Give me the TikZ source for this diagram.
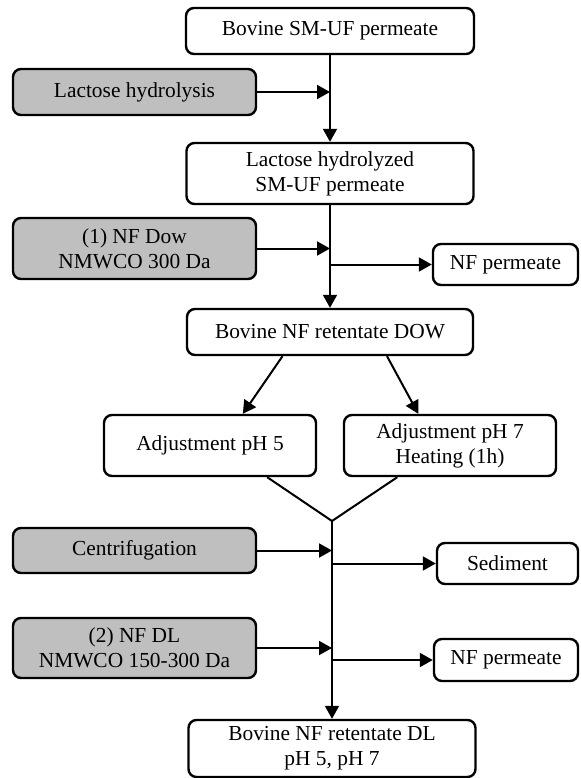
\documentclass[tikz,border=0pt]{standalone}
\usepackage{fontspec}
\setmainfont{Liberation Serif}
\usepackage{xcolor}
\usetikzlibrary{arrows.meta}

\begin{document}
\begin{tikzpicture}[x=0.5pt, y=-0.5pt,
  proc/.style={draw, line width=1.2pt, rounded corners=4pt, align=center, inner sep=1pt, font=\fontsize{10.7}{12.5}\selectfont},
  treat/.style={proc, fill=black!25},
  flow/.style={line width=1pt, -{Triangle[length=6.5pt, width=7pt]}}]

\useasboundingbox (0,0) rectangle (581,778);

\node[proc, minimum width=144pt, minimum height=23pt] (src) at (330,31) {Bovine SM-UF permeate};
\node[treat, minimum width=121.5pt, minimum height=23pt] (hydro) at (134.5,92) {Lactose hydrolysis};
\node[proc, minimum width=143.5pt, minimum height=30.5pt] (lhsm) at (330,173.5) {Lactose hydrolyzed\\SM-UF permeate};
\node[treat, minimum width=121.5pt, minimum height=30.5pt] (nfdow) at (134.5,248.5) {(1) NF Dow\\NMWCO 300 Da};
\node[proc, minimum width=72.5pt, minimum height=20.5pt] (perm1) at (505.5,264.5) {NF permeate};
\node[proc, minimum width=143pt, minimum height=23pt] (retdow) at (330,332) {Bovine NF retentate DOW};

\node[proc, minimum width=106pt, minimum height=30.5pt] (ph5) at (210,445.5) {Adjustment pH 5};
\node[proc, minimum width=106pt, minimum height=30.5pt] (ph7) at (450,445.5) {Adjustment pH 7\\Heating (1h)};
\coordinate (mrg) at (332,521);

\node[treat, minimum width=121.5pt, minimum height=22.5pt] (centri) at (134.5,550.5) {Centrifugation};
\node[proc, minimum width=70.5pt, minimum height=20.5pt] (sed) at (507.5,563.5) {Sediment};
\node[treat, minimum width=121.5pt, minimum height=30pt] (nfdl) at (134.5,648) {(2) NF DL\\NMWCO 150-300 Da};
\node[proc, minimum width=72pt, minimum height=21pt] (perm2) at (506,660) {NF permeate};
\node[proc, minimum width=143.5pt, minimum height=28.5pt] (retdl) at (332,748.5) {Bovine NF retentate DL\\pH 5, pH 7};

% main line
\draw[flow] (src) -- (lhsm);
\draw[flow] (hydro) -- (hydro -| src.south);
\draw[flow] (lhsm) -- (retdow);
\draw[flow] (nfdow) -- (nfdow -| lhsm.south);
\draw[flow] (retdow.north |- perm1) -- (perm1);

% split by pH
\draw[flow] (retdow.-153) -- (ph5.44);
\draw[flow] (retdow.-23.5) -- (ph7.135.5);
\draw[line width=1pt] (ph5.-29) -- (mrg) -- (ph7.-149);

\draw[flow] (mrg) -- (retdl);
\draw[flow] (centri) -- (centri -| mrg);
\draw[flow] (mrg |- sed) -- (sed);
\draw[flow] (nfdl) -- (nfdl -| mrg);
\draw[flow] (mrg |- perm2) -- (perm2);

\end{tikzpicture}
\end{document}
